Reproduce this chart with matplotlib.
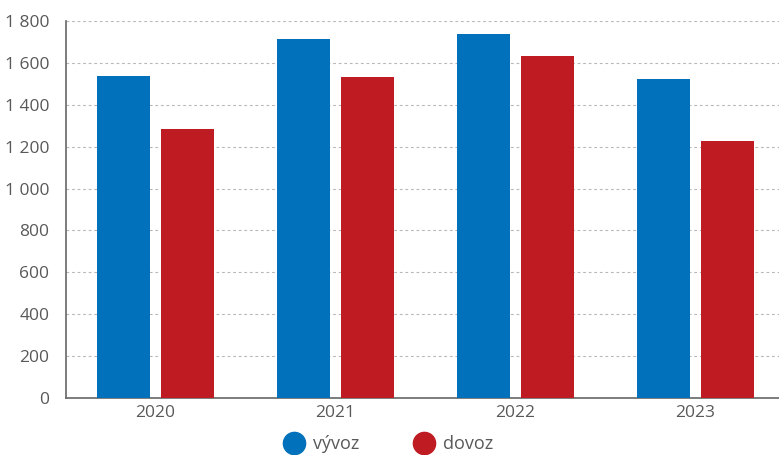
import matplotlib.pyplot as plt
import matplotlib.ticker as mticker
from matplotlib.lines import Line2D
import numpy as np

plt.rcParams['font.family'] = ['Open Sans', 'DejaVu Sans']

years = ['2020', '2021', '2022', '2023']
vyvoz = [1538, 1714, 1738, 1523]
dovoz = [1285, 1533, 1633, 1227]

blue = '#0071BA'
red = '#BE1B22'
grey = '#595959'

fig = plt.figure(figsize=(7.79, 4.55), dpi=100)
ax = fig.add_axes([66 / 779, 57 / 455, 1 - 66 / 779, (398 - 21) / 455])

x = np.arange(len(years))
w = 0.294
off = 0.178
ax.bar(x - off, vyvoz, w, color=blue, zorder=3)
ax.bar(x + off, dovoz, w, color=red, zorder=3)

ax.set_xlim(-0.497, 3.464)
ax.set_ylim(0, 1800)
ax.set_yticks(range(0, 1801, 200))
ax.yaxis.set_major_formatter(mticker.FuncFormatter(lambda v, p: f'{int(v):,}'.replace(',', ' ')))
ax.set_xticks(x)
ax.set_xticklabels(years)

ax.grid(axis='y', color='#b8b8b8', linestyle=(0, (2.5, 2.5)), linewidth=0.8, zorder=0)
for s in ['top', 'right']:
    ax.spines[s].set_visible(False)
for s in ['left', 'bottom']:
    ax.spines[s].set_color('#666666')
    ax.spines[s].set_linewidth(1.2)
ax.tick_params(axis='both', length=0, labelsize=12.5, colors=grey)
ax.tick_params(axis='y', pad=12)
ax.tick_params(axis='x', pad=5)

handles = [Line2D([], [], marker='o', linestyle='none', markersize=16, color=blue),
           Line2D([], [], marker='o', linestyle='none', markersize=16, color=red)]
fig.legend(handles, ['vývoz', 'dovoz'], loc='center', bbox_to_anchor=(0.498, 0.024),
           ncol=2, frameon=False, fontsize=13, labelcolor=grey,
           handletextpad=0.45, columnspacing=3.0, handlelength=1.2)

fig.savefig('out.png', dpi=100)
